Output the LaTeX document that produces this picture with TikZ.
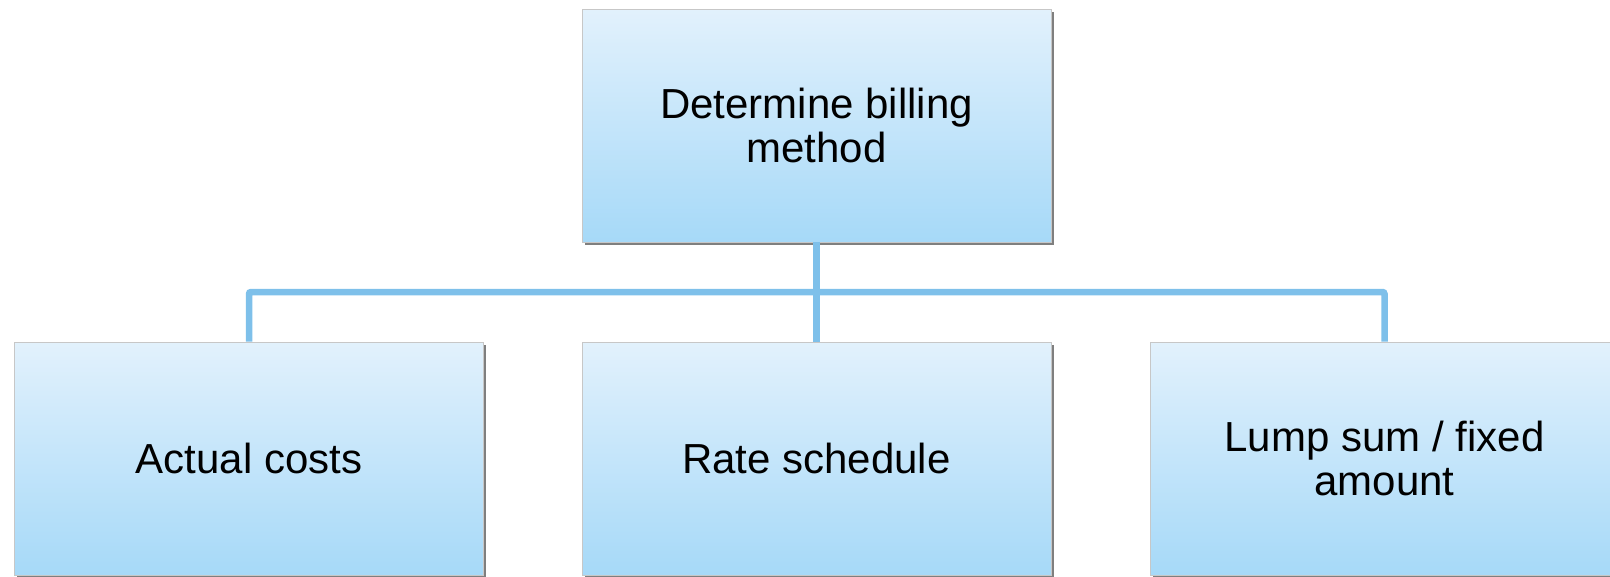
\documentclass[tikz,border=0pt]{standalone}
\usepackage{fontspec}
\setmainfont{Liberation Sans}
\usetikzlibrary{shadows}
\definecolor{boxtop}{RGB}{226,241,252}
\definecolor{boxbot}{RGB}{166,217,248}
\definecolor{conn}{RGB}{126,192,234}
\begin{document}
\begin{tikzpicture}[x=1pt,y=-1pt,
  box/.style={rectangle, minimum width=469pt, minimum height=233pt,
    top color=boxtop, bottom color=boxbot, draw=black!22, line width=0.6pt,
    align=center, inner sep=0pt, font=\fontsize{42}{43.5}\selectfont,
    drop shadow={shadow xshift=2.5pt, shadow yshift=-2.5pt, opacity=0.5, fill=black}},
  link/.style={draw=conn, line width=6.5pt, rounded corners=2pt}]
\useasboundingbox (0,0) rectangle (1610,576);
\coordinate (bus) at (816.5,292);
\node[box] (top) at (816.5,125.5) {Determine billing\\method};
\node[box] (a) at (249,458.5) {Actual costs};
\node[box] (b) at (816.5,458.5) {Rate schedule};
\node[box] (c) at (1384.5,458.5) {Lump sum / fixed\\amount};
\draw[link] (top.south) -- (b.north);
\draw[link] (a.north) -- (a.north |- bus) -- (c.north |- bus) -- (c.north);
\end{tikzpicture}
\end{document}
